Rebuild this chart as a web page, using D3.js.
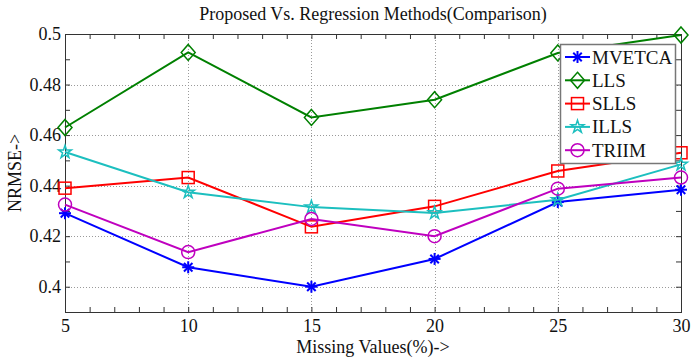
<!DOCTYPE html>
<html>
<head>
<meta charset="utf-8">
<script src="https://cdn.jsdelivr.net/npm/d3@7"></script>
<style>
  html, body { margin: 0; padding: 0; background: #fff; }
  svg, svg text { font-family: "Liberation Serif", "Times New Roman", serif !important; }
  svg { display: block; }
</style>
</head>
<body>
<svg id="chart" width="692" height="362"></svg>
<script>
// Missing-value percentages on the x axis
const missing = [5, 10, 15, 20, 25, 30];

// NRMSE per method
const mvetca = [0.4291, 0.4077, 0.4000, 0.4110, 0.4335, 0.4384];
const lls    = [0.4630, 0.4927, 0.4670, 0.4740, 0.4925, 0.4996];
const slls   = [0.4390, 0.4432, 0.4237, 0.4318, 0.4458, 0.4530];
const ills   = [0.4533, 0.4374, 0.4315, 0.4292, 0.4344, 0.4484];
const triim  = [0.4325, 0.4137, 0.4268, 0.4200, 0.4388, 0.4432];

const seriesNames = ["MVETCA", "LLS", "SLLS", "ILLS", "TRIIM"];
const seriesValues = [mvetca, lls, slls, ills, triim];
const seriesColors = ["#0000ff", "#008000", "#ff0000", "#1cbfbf", "#bf00bf"];
const seriesMarkers = ["asterisk", "diamond", "square", "star", "circle"];

const xTicks = [5, 10, 15, 20, 25, 30];
const yTicks = [0.4, 0.42, 0.44, 0.46, 0.48, 0.5];

const svg = d3.select("#chart");
const plotL = 65, plotR = 681, plotT = 34, plotB = 312;

const x = d3.scaleLinear().domain([5, 30]).range([plotL, plotR]);
const y = d3.scaleLinear().domain([0.39, 0.5]).range([plotB, plotT]);

// dotted grid at major ticks
const grid = svg.append("g").attr("stroke", "#9a9a9a").attr("stroke-width", 1)
  .attr("stroke-dasharray", "1,2");
xTicks.slice(1, -1).forEach(t => grid.append("line")
  .attr("x1", Math.round(x(t)) + 0.5).attr("x2", Math.round(x(t)) + 0.5)
  .attr("y1", plotT).attr("y2", plotB));
yTicks.slice(0, -1).forEach(t => grid.append("line")
  .attr("y1", Math.round(y(t)) + 0.5).attr("y2", Math.round(y(t)) + 0.5)
  .attr("x1", plotL).attr("x2", plotR));

// axes: bottom/left carry labels; top/right carry only inward ticks
const tickLen = 5;
const xMinor = d3.range(5, 31, 1);
const yMinor = d3.range(0, 12).map(i => +(0.39 + i * 0.01).toFixed(2));

function styleAxis(g) {
  g.attr("font-family", null).attr("font-size", 18);
  g.selectAll(".domain").remove();
  g.selectAll(".tick line").attr("stroke", "#333").attr("stroke-width", 1);
  g.selectAll("text").attr("fill", "#111");
}

svg.append("g").attr("transform", `translate(0,${plotB})`)
  .call(d3.axisBottom(x).tickValues(xMinor).tickSize(-tickLen).tickFormat(""))
  .call(styleAxis);
svg.append("g").attr("transform", `translate(0,${plotB})`)
  .call(d3.axisBottom(x).tickValues(xTicks).tickSize(0).tickPadding(6).tickFormat(d3.format("d")))
  .call(styleAxis).selectAll("text").attr("dy", "0.78em");
svg.append("g").attr("transform", `translate(0,${plotT})`)
  .call(d3.axisTop(x).tickValues(xMinor).tickSize(-tickLen).tickFormat(""))
  .call(styleAxis);

svg.append("g").attr("transform", `translate(${plotL},0)`)
  .call(d3.axisLeft(y).tickValues(yMinor).tickSize(-tickLen).tickFormat(""))
  .call(styleAxis);
svg.append("g").attr("transform", `translate(${plotL},0)`)
  .call(d3.axisLeft(y).tickValues(yTicks).tickSize(0).tickPadding(4).tickFormat(d => d3.format("")(+d.toFixed(2))))
  .call(styleAxis);
svg.append("g").attr("transform", `translate(${plotR},0)`)
  .call(d3.axisRight(y).tickValues(yMinor).tickSize(-tickLen).tickFormat(""))
  .call(styleAxis);

// plot frame
svg.append("rect").attr("x", plotL + 0.5).attr("y", plotT + 0.5)
  .attr("width", plotR - plotL).attr("height", plotB - plotT)
  .attr("fill", "none").attr("stroke", "#333").attr("stroke-width", 1);

// marker shapes
function drawMarker(g, type, cx, cy, color) {
  const s = g.append("g").attr("transform", `translate(${cx},${cy})`)
    .attr("fill", "none").attr("stroke", color).attr("stroke-width", 1.5);
  if (type === "asterisk") {
    const r = 6;
    [0, 45, 90, 135].forEach(a => {
      const rad = a * Math.PI / 180;
      s.append("line").attr("x1", -r * Math.cos(rad)).attr("y1", -r * Math.sin(rad))
        .attr("x2", r * Math.cos(rad)).attr("y2", r * Math.sin(rad)).attr("stroke-width", 2);
    });
  } else if (type === "diamond") {
    s.append("path").attr("d", "M0,-8L7,0L0,8L-7,0Z");
  } else if (type === "square") {
    s.append("rect").attr("x", -6).attr("y", -6).attr("width", 12).attr("height", 12);
  } else if (type === "star") {
    s.append("path").attr("d", d3.symbol(d3.symbolStar, 50)());
  } else if (type === "circle") {
    s.append("circle").attr("r", 6.5);
  }
}

// series lines and markers
const line = d3.line().x((d, i) => x(missing[i])).y(d => y(d));
seriesValues.forEach((vals, k) => {
  const g = svg.append("g");
  g.append("path").datum(vals).attr("d", line)
    .attr("fill", "none").attr("stroke", seriesColors[k]).attr("stroke-width", 2);
  vals.forEach((v, i) => drawMarker(g, seriesMarkers[k], x(missing[i]), y(v), seriesColors[k]));
});

// legend
const lg = svg.append("g");
lg.append("rect").attr("x", 560.5).attr("y", 44.5).attr("width", 115).attr("height", 119)
  .attr("fill", "#fff").attr("stroke", "#777").attr("stroke-width", 1.5);
seriesNames.forEach((name, k) => {
  const cy = 57 + k * 23.3;
  lg.append("line").attr("x1", 565).attr("x2", 590).attr("y1", cy).attr("y2", cy)
    .attr("stroke", seriesColors[k]).attr("stroke-width", 2);
  drawMarker(lg, seriesMarkers[k], 577.5, cy, seriesColors[k]);
  lg.append("text").attr("x", 592).attr("y", cy + 6.5).attr("font-size", 19)
    .attr("fill", "#111").text(name);
});

// titles
svg.append("text").attr("x", (plotL + plotR) / 2).attr("y", 20).attr("text-anchor", "middle")
  .attr("font-size", 18).attr("fill", "#111").text("Proposed Vs. Regression Methods(Comparison)");
svg.append("text").attr("x", (plotL + plotR) / 2).attr("y", 353).attr("text-anchor", "middle")
  .attr("font-size", 18).attr("fill", "#111").text("Missing Values(%)->");
svg.append("text").attr("transform", `translate(21,${(plotT + plotB) / 2}) rotate(-90)`)
  .attr("text-anchor", "middle").attr("font-size", 18).attr("fill", "#111").text("NRMSE->");
</script>
</body>
</html>
